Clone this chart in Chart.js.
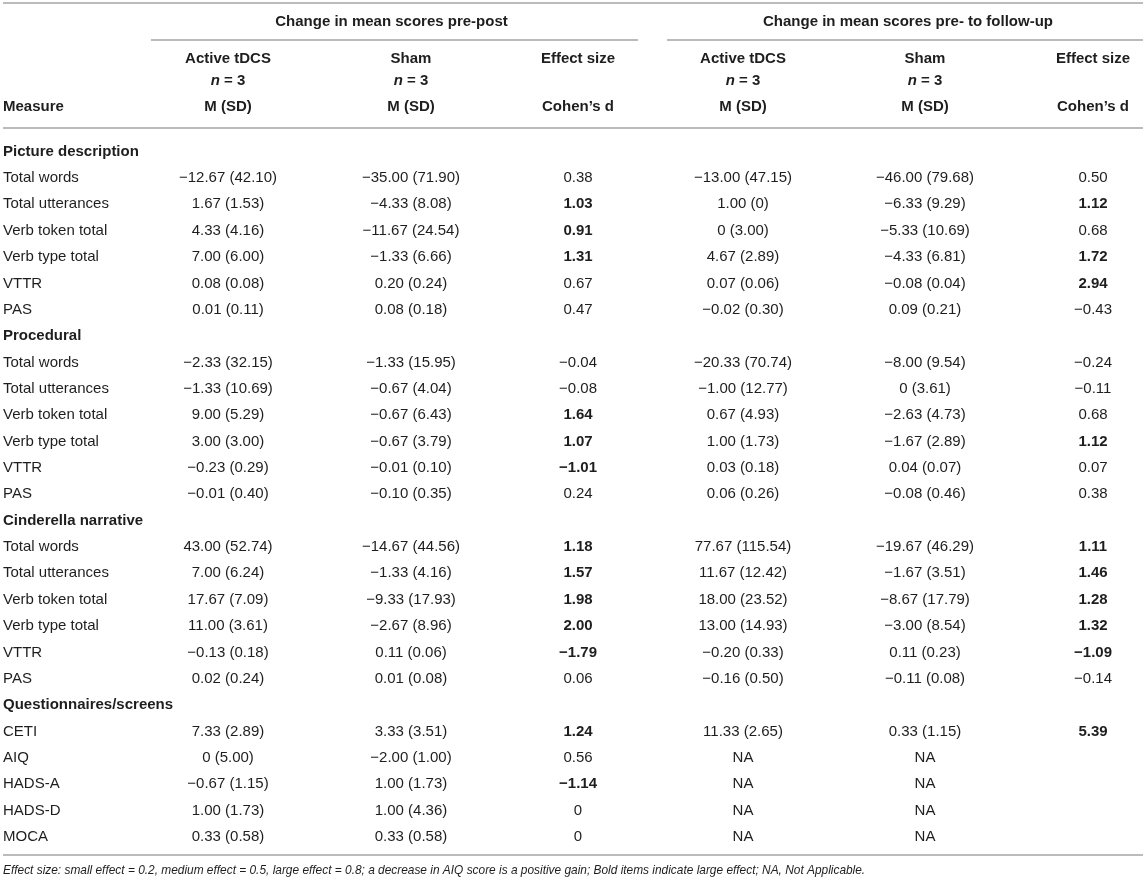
<!DOCTYPE html>
<html>
<head>
<meta charset="utf-8">
<script src="https://cdn.jsdelivr.net/npm/chart.js@4.4.1/dist/chart.umd.min.js"></script>
<style>
  html, body { margin: 0; padding: 0; background: #fff; }
  #wrap { width: 1143px; height: 886px; position: relative; }
</style>
</head>
<body>
<div id="wrap"><canvas id="tableChart"></canvas></div>
<script>
const rowLabels = [
  'Picture description', 'Total words', 'Total utterances', 'Verb token total', 'Verb type total', 'VTTR', 'PAS',
  'Procedural', 'Total words', 'Total utterances', 'Verb token total', 'Verb type total', 'VTTR', 'PAS',
  'Cinderella narrative', 'Total words', 'Total utterances', 'Verb token total', 'Verb type total', 'VTTR', 'PAS',
  'Questionnaires/screens', 'CETI', 'AIQ', 'HADS-A', 'HADS-D', 'MOCA'
];
const sectionRows = [0, 7, 14, 21];

// pre-post
const activePostM  = [null, -12.67, 1.67, 4.33, 7.00, 0.08, 0.01, null, -2.33, -1.33, 9.00, 3.00, -0.23, -0.01, null, 43.00, 7.00, 17.67, 11.00, -0.13, 0.02, null, 7.33, 0, -0.67, 1.00, 0.33];
const activePostSD = [null, 42.10, 1.53, 4.16, 6.00, 0.08, 0.11, null, 32.15, 10.69, 5.29, 3.00, 0.29, 0.40, null, 52.74, 6.24, 7.09, 3.61, 0.18, 0.24, null, 2.89, 5.00, 1.15, 1.73, 0.58];
const shamPostM    = [null, -35.00, -4.33, -11.67, -1.33, 0.20, 0.08, null, -1.33, -0.67, -0.67, -0.67, -0.01, -0.10, null, -14.67, -1.33, -9.33, -2.67, 0.11, 0.01, null, 3.33, -2.00, 1.00, 1.00, 0.33];
const shamPostSD   = [null, 71.90, 8.08, 24.54, 6.66, 0.24, 0.18, null, 15.95, 4.04, 6.43, 3.79, 0.10, 0.35, null, 44.56, 4.16, 17.93, 8.96, 0.06, 0.08, null, 3.51, 1.00, 1.73, 4.36, 0.58];
const effectPost   = [null, 0.38, 1.03, 0.91, 1.31, 0.67, 0.47, null, -0.04, -0.08, 1.64, 1.07, -1.01, 0.24, null, 1.18, 1.57, 1.98, 2.00, -1.79, 0.06, null, 1.24, 0.56, -1.14, 0, 0];

// pre to follow-up
const activeFuM  = [null, -13.00, 1.00, 0, 4.67, 0.07, -0.02, null, -20.33, -1.00, 0.67, 1.00, 0.03, 0.06, null, 77.67, 11.67, 18.00, 13.00, -0.20, -0.16, null, 11.33, 'NA', 'NA', 'NA', 'NA'];
const activeFuSD = [null, 47.15, 0, 3.00, 2.89, 0.06, 0.30, null, 70.74, 12.77, 4.93, 1.73, 0.18, 0.26, null, 115.54, 12.42, 23.52, 14.93, 0.33, 0.50, null, 2.65, null, null, null, null];
const shamFuM    = [null, -46.00, -6.33, -5.33, -4.33, -0.08, 0.09, null, -8.00, 0, -2.63, -1.67, 0.04, -0.08, null, -19.67, -1.67, -8.67, -3.00, 0.11, -0.11, null, 0.33, 'NA', 'NA', 'NA', 'NA'];
const shamFuSD   = [null, 79.68, 9.29, 10.69, 6.81, 0.04, 0.21, null, 9.54, 3.61, 4.73, 2.89, 0.07, 0.46, null, 46.29, 3.51, 17.79, 8.54, 0.23, 0.08, null, 1.15, null, null, null, null];
const effectFu   = [null, 0.50, 1.12, 0.68, 1.72, 2.94, -0.43, null, -0.24, -0.11, 0.68, 1.12, 0.07, 0.38, null, 1.11, 1.46, 1.28, 1.32, -1.09, -0.14, null, 5.39, null, null, null, null];

const groupTitles = ['Change in mean scores pre-post', 'Change in mean scores pre- to follow-up'];
const footnote = 'Effect size: small effect = 0.2, medium effect = 0.5, large effect = 0.8; a decrease in AIQ score is a positive gain; Bold items indicate large effect; NA, Not Applicable.';

// layout (x scale units = canvas px)
const COL_X = [228, 411, 578, 743, 925, 1093];
const LABEL_X = 3;
const FONT = "'Liberation Sans', Arial, Helvetica, sans-serif";
const INK = '#1e1e1e';
const RULE = '#bbbbbb';

function fmt(v) {
  if (v === 0) return '0';
  return (v < 0 ? '\u2212' : '') + Math.abs(v).toFixed(2);
}
function msd(m, sd) {
  if (m === null) return '';
  if (m === 'NA') return 'NA';
  return fmt(m) + ' (' + fmt(sd) + ')';
}

const columns = [
  { texts: activePostM.map((m, i) => msd(m, activePostSD[i])) },
  { texts: shamPostM.map((m, i) => msd(m, shamPostSD[i])) },
  { texts: effectPost.map(d => d === null ? '' : fmt(d)), bold: effectPost.map(d => d !== null && Math.abs(d) >= 0.8) },
  { texts: activeFuM.map((m, i) => msd(m, activeFuSD[i])) },
  { texts: shamFuM.map((m, i) => msd(m, shamFuSD[i])) },
  { texts: effectFu.map(d => d === null ? '' : fmt(d)), bold: effectFu.map(d => d !== null && Math.abs(d) >= 0.8) }
];

const datasets = [{
  label: 'Measure',
  data: rowLabels.map((l, i) => ({ x: LABEL_X, y: i })),
  texts: rowLabels,
  bold: rowLabels.map((l, i) => sectionRows.includes(i)),
  align: 'left'
}].concat(columns.map((c, ci) => ({
  label: 'col' + ci,
  data: c.texts.map((t, i) => ({ x: COL_X[ci], y: i })),
  texts: c.texts,
  bold: c.bold || c.texts.map(() => false),
  align: 'center'
})));

function hline(ctx, x1, x2, y) {
  ctx.save();
  ctx.strokeStyle = RULE;
  ctx.lineWidth = 2;
  ctx.beginPath();
  ctx.moveTo(x1, y);
  ctx.lineTo(x2, y);
  ctx.stroke();
  ctx.restore();
}

function drawNEq3(ctx, cx, y) {
  ctx.font = 'italic bold 15px ' + FONT;
  const wN = ctx.measureText('n').width;
  ctx.font = 'bold 15px ' + FONT;
  const rest = ' = 3';
  const wR = ctx.measureText(rest).width;
  const x0 = cx - (wN + wR) / 2;
  ctx.textAlign = 'left';
  ctx.font = 'italic bold 15px ' + FONT;
  ctx.fillText('n', x0, y);
  ctx.font = 'bold 15px ' + FONT;
  ctx.fillText(rest, x0 + wN, y);
}

const tablePlugin = {
  id: 'tablePlugin',
  afterDatasetsDraw(chart) {
    const ctx = chart.ctx;
    const xs = chart.scales.x;
    const W = chart.width;
    ctx.save();
    ctx.fillStyle = INK;
    ctx.textBaseline = 'middle';

    // header
    hline(ctx, LABEL_X, W, 3);
    ctx.font = 'bold 15px ' + FONT;
    ctx.textAlign = 'center';
    ctx.fillText(groupTitles[0], (xs.getPixelForValue(151) + xs.getPixelForValue(638)) / 2 - 3, 22);
    ctx.fillText(groupTitles[1], (xs.getPixelForValue(667) + xs.getPixelForValue(1143)) / 2 + 3, 22);
    hline(ctx, xs.getPixelForValue(151), xs.getPixelForValue(638), 40);
    hline(ctx, xs.getPixelForValue(667), xs.getPixelForValue(1143), 40);

    const sub = ['Active tDCS', 'Sham', 'Effect size', 'Active tDCS', 'Sham', 'Effect size'];
    const third = ['M (SD)', 'M (SD)', 'Cohen\u2019s d', 'M (SD)', 'M (SD)', 'Cohen\u2019s d'];
    COL_X.forEach((cx, i) => {
      const px = xs.getPixelForValue(cx);
      ctx.font = 'bold 15px ' + FONT;
      ctx.textAlign = 'center';
      ctx.fillText(sub[i], px, 59);
      if (i % 3 !== 2) drawNEq3(ctx, px, 81);
      ctx.font = 'bold 15px ' + FONT;
      ctx.textAlign = 'center';
      ctx.fillText(third[i], px, 107);
    });
    ctx.textAlign = 'left';
    ctx.fillText('Measure', LABEL_X, 107);
    hline(ctx, LABEL_X, W, 128);

    // body cells, positioned by the scales
    chart.data.datasets.forEach((ds, di) => {
      const meta = chart.getDatasetMeta(di);
      meta.data.forEach((pt, i) => {
        const t = ds.texts[i];
        if (!t) return;
        ctx.font = (ds.bold[i] ? 'bold ' : '') + '15px ' + FONT;
        ctx.textAlign = ds.align;
        ctx.fillText(t, pt.x, pt.y);
      });
    });

    hline(ctx, LABEL_X, W, 855);
    ctx.font = 'italic 11.9px ' + FONT;
    ctx.textAlign = 'left';
    ctx.fillText(footnote, LABEL_X, 871);
    ctx.restore();
  }
};

new Chart(document.getElementById('tableChart'), {
  type: 'scatter',
  data: { datasets: datasets },
  options: {
    responsive: true,
    maintainAspectRatio: false,
    animation: false,
    events: [],
    layout: { padding: { top: 138.4, bottom: 35.9, left: 0, right: 0 } },
    elements: { point: { radius: 0, hoverRadius: 0 } },
    plugins: { legend: { display: false }, tooltip: { enabled: false } },
    scales: {
      x: { type: 'linear', display: false, min: 0, max: 1143 },
      y: { type: 'linear', display: false, min: -0.5, max: rowLabels.length - 0.5, reverse: true }
    }
  },
  plugins: [tablePlugin]
});
</script>
</body>
</html>
